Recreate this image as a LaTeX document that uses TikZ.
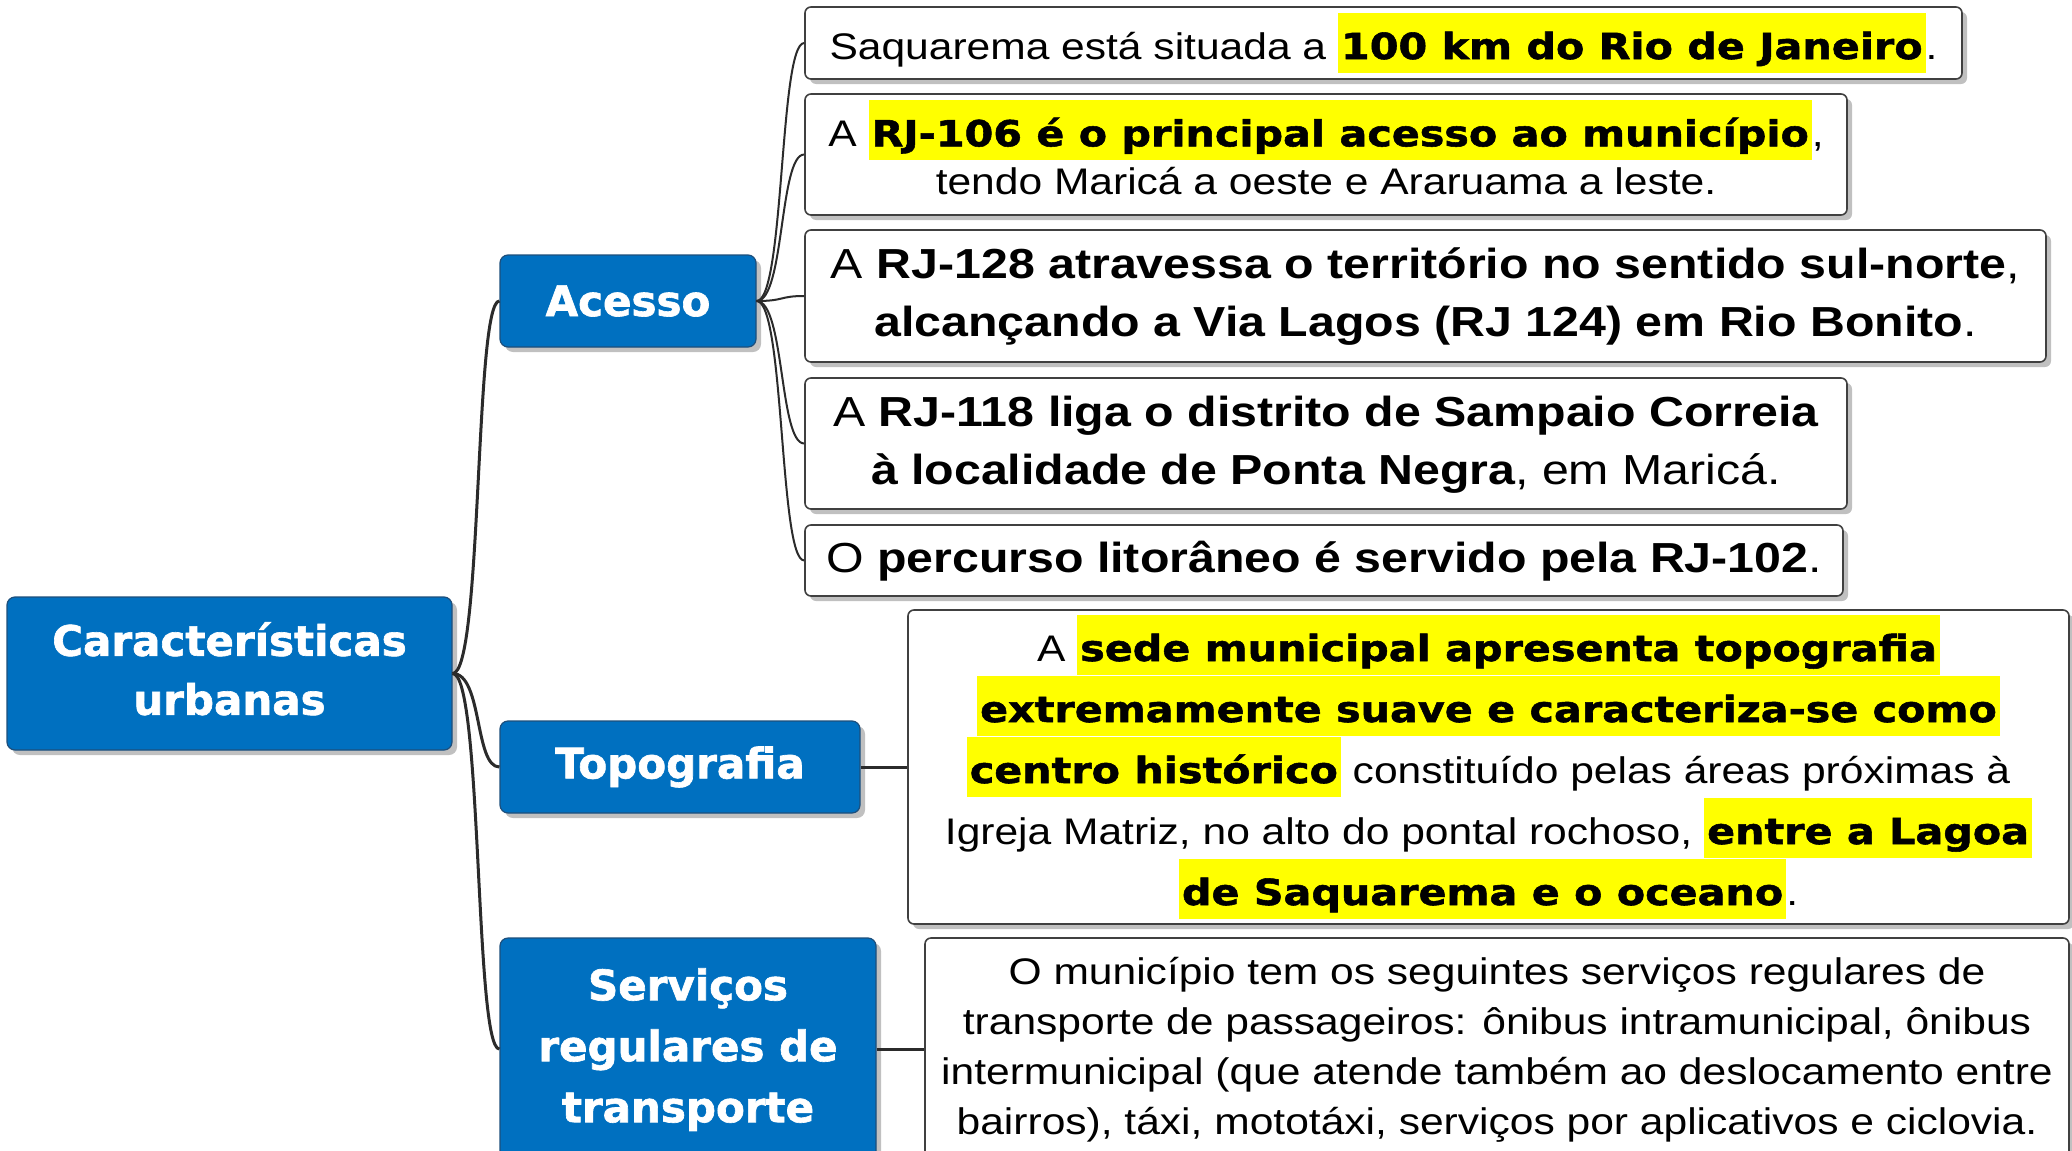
\documentclass[tikz,border=0pt]{standalone}
\usepackage{fontspec}
\setmainfont{Liberation Sans}[FakeStretch=1.15]
\newfontfamily\heavyfont{DejaVu Sans}[FakeStretch=1.15,Scale=0.97,BoldFeatures={FakeBold=1.5}]
\newfontfamily\titlefont{DejaVu Sans}[BoldFeatures={FakeBold=1.5}]
\usetikzlibrary{shadows}
\definecolor{topicblue}{HTML}{0070C0}
\definecolor{topicline}{HTML}{1D4F7C}
\definecolor{noteline}{HTML}{404040}
\definecolor{hlyellow}{HTML}{FFFF00}
\definecolor{branchgray}{HTML}{2B2B2B}
\newcommand\hv[1]{{\heavyfont\bfseries #1}}
\newcommand\hl[1]{{\setlength\fboxsep{0pt}\colorbox{hlyellow}{\rule[-7pt]{0pt}{30pt}\kern1.5pt\hv{#1}\kern1.5pt}}}
\tikzset{
  topic/.style={draw=topicline, fill=topicblue, rounded corners=4pt, line width=0.6pt,
    text=white, align=center, inner sep=0pt,
    font=\titlefont\bfseries\fontsize{21}{29.5}\selectfont,
    drop shadow={shadow xshift=2.5pt, shadow yshift=-2.5pt, opacity=0.35, fill=black!70}},
  note/.style={draw=noteline, fill=white, rounded corners=3pt, line width=0.8pt,
    align=center, inner sep=0pt,
    drop shadow={shadow xshift=2.5pt, shadow yshift=-2.5pt, opacity=0.35, fill=black!70}},
  branch/.style={draw=branchgray, line width=1.5pt},
  twig/.style={draw=branchgray, line width=1pt},
}

\begin{document}
\begin{tikzpicture}[x=0.5pt,y=-0.5pt]
  \path[use as bounding box, fill=white] (0,0) rectangle (2072,1151);

  % topics
  \node(root)[topic, minimum width=222.5pt, minimum height=76.5pt] at (229.5,673.5)
    {Características\strut\\urbanas\strut};
  \node(acesso)[topic, minimum width=128pt, minimum height=46pt] at (628,301) {Acesso};
  \node(topo)[topic, minimum width=180pt, minimum height=46pt] at (680,767) {Topografia};
  \node(serv)[topic, minimum width=188pt, minimum height=111pt,
    font=\titlefont\bfseries\fontsize{21}{30.5}\selectfont] at (688,1049)
    {Serviços\strut\\regulares de\\transporte\strut};

  % notes of Acesso
  \node(n1)[note, minimum width=578.5pt, minimum height=36pt,
    font=\fontsize{18.5}{24}\selectfont] at (1383.5,43)
    {Saquarema está situada a \hl{100 km do Rio de Janeiro}.};
  \node(n2)[note, minimum width=521pt, minimum height=60.5pt,
    font=\fontsize{18.5}{24}\selectfont] at (1326,154.5)
    {A \hl{RJ-106 é o principal acesso ao município},\strut\\
     tendo Maricá a oeste e Araruama a leste.\strut};
  \node(n3)[note, minimum width=620.5pt, minimum height=66pt,
    font=\fontsize{21}{29}\selectfont] at (1425.5,296)
    {A \textbf{RJ-128 atravessa o território no sentido sul-norte},\strut\\
     \textbf{alcançando a Via Lagos (RJ 124) em Rio Bonito}.\strut};
  \node(n4)[note, minimum width=521pt, minimum height=65.5pt,
    font=\fontsize{21}{29}\selectfont] at (1326,443.5)
    {A \textbf{RJ-118 liga o distrito de Sampaio Correia}\strut\\
     \textbf{à localidade de Ponta Negra}, em Maricá.\strut};
  \node(n5)[note, minimum width=519pt, minimum height=35.5pt,
    font=\fontsize{21}{29}\selectfont] at (1324,560.5)
    {O \textbf{percurso litorâneo é servido pela RJ-102}.\strut};

  % note of Topografia
  \node(t1)[note, minimum width=580.5pt, minimum height=157pt,
    font=\fontsize{18.5}{30.5}\selectfont] at (1488.5,767)
    {A \hl{sede municipal apresenta topografia}\\
     \hl{extremamente suave e caracteriza-se como}\\
     \hl{centro histórico} constituído pelas áreas próximas à\\
     Igreja Matriz, no alto do pontal rochoso, \hl{entre a Lagoa}\\
     \hl{de Saquarema e o oceano}.};

  % note of Servicos
  \node(s1)[note, minimum width=572pt, minimum height=111pt,
    font=\fontsize{18.5}{25}\selectfont] at (1497,1049)
    {O município tem os seguintes serviços regulares de\strut\\
     transporte de passageiros: ônibus intramunicipal, ônibus\\
     intermunicipal (que atende também ao deslocamento entre\\
     bairros), táxi, mototáxi, serviços por aplicativos e ciclovia.\strut};

  % branches
  \foreach \t in {acesso,topo,serv}
    \draw[branch] (root.east) .. controls +(30,0) and +(-25,0) .. (\t.west);
  \foreach \i in {1,...,5}
    \draw[twig] (acesso.east) .. controls +(28,0) and +(-25,0) .. (n\i.west);
  \draw[branch] (topo.east) -- (t1.west);
  \draw[branch] (serv.east) -- (s1.west);
\end{tikzpicture}
\end{document}
